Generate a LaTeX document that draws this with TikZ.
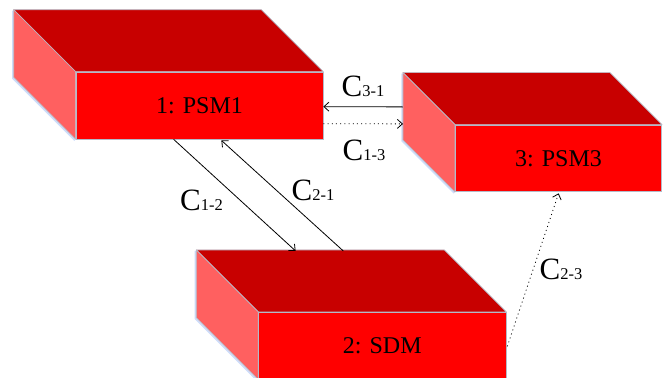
\documentclass[tikz,border=0pt]{standalone}
\usepackage{fontspec}
\setmainfont{Liberation Serif}
\usetikzlibrary{arrows.meta,calc}
\definecolor{frontc}{RGB}{255,0,0}
\definecolor{topc}{RGB}{200,0,0}
\definecolor{sidec}{RGB}{255,96,96}
\definecolor{edgec}{RGB}{180,186,200}
\definecolor{glowc}{RGB}{205,220,250}
\newcommand\clab[1]{{\fontsize{31}{31}\selectfont C}{\fontsize{16.5}{16.5}\selectfont #1}}
\tikzset{
  frontface/.style={draw=edgec, fill=frontc, line width=0.7pt, inner sep=0pt,
    font=\fontsize{24}{28}\selectfont},
  topface/.style={draw=edgec, fill=topc, line width=0.7pt, line join=round},
  sideface/.style={draw=edgec, fill=sidec, line width=0.7pt, line join=round},
  glow/.style={draw=glowc, line width=1.6pt},
  conn/.style={draw=black, line width=0.8pt, -{Straight Barb[length=5pt,width=9pt]}},
  dconn/.style={conn, dash pattern=on 1pt off 3.2pt},
  clabel/.style={anchor=base, inner sep=0pt}
}
% name, cx, cy, w, h, depth, text
\newcommand\drawcuboid[7]{%
  \node[frontface, minimum width=#4pt, minimum height=#5pt] (#1) at (#2,#3) {#7};
  \draw[glow] ($(#1.north west)+(-#6-0.8,-#6+1)$) -- ($(#1.south west)+(-#6-0.8,-#6+1)$) -- ($(#1.south west)+(-0.8,1)$);
  \path[topface] (#1.north west) -- (#1.north east) -- ($(#1.north east)+(-#6,-#6)$) -- ($(#1.north west)+(-#6,-#6)$) -- cycle;
  \path[sideface] (#1.north west) -- (#1.south west) -- ($(#1.south west)+(-#6,-#6)$) -- ($(#1.north west)+(-#6,-#6)$) -- cycle;
  \node[frontface, minimum width=#4pt, minimum height=#5pt] at (#1.center) {#7};
}
\begin{document}
\begin{tikzpicture}[x=1pt,y=-1pt]
\useasboundingbox (0,0) rectangle (665,378);
\clip (0,0) rectangle (665,378);
\drawcuboid{b1}{199.5}{105.5}{247}{67}{62}{1: PSM1}
\drawcuboid{b3}{558.5}{158.3}{206.4}{66.7}{52}{3: PSM3}
\drawcuboid{b2}{382.3}{345.8}{247.3}{67}{62}{2: SDM}
% connectors
\coordinate (b3edge) at ($(b3.north west)+(-52,-51)$);
\draw[conn] ($(b3edge)+(0,33.3)$) -- ($(b1.north east)+(0,35)$);
\draw[dconn] ($(b1.north east)+(0,52)$) -- ($(b3edge)+(0,50.3)$);
\draw[conn] ($(b1.south west)+(98,0)$) -- ($(b2.north west)+(-24.7+62,-61)$);
\draw[conn] ($(b2.north west)+(23+62,-61)$) -- ($(b1.south west)+(145.7,1)$);
\draw[dconn] ($(b2.north east)+(1,34.4)$) -- ($(b3.south west)+(103.7,1.3)$);
% labels
\node[clabel] (l31) at (363,96) {\clab{3-1}};
\node[clabel] (l13) at (364,160) {\clab{1-3}};
\node[clabel] (l12) at (201.5,210) {\clab{1-2}};
\node[clabel] (l21) at (313,200.7) {\clab{2-1}};
\node[clabel] (l23) at (561,279) {\clab{2-3}};
\end{tikzpicture}
\end{document}
